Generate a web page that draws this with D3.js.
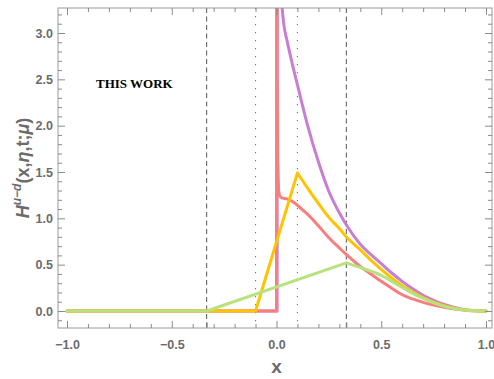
<!DOCTYPE html>
<html>
<head>
<meta charset="utf-8">
<script src="https://cdn.jsdelivr.net/npm/d3@7"></script>
<style>
  body { margin: 0; background: #fff; }
  .tick text { font-family: "Liberation Sans", Arial, sans-serif; font-weight: bold; font-size: 12.5px; fill: #6b6b6b; }
  .tick line { stroke: #8a8a8a; }
</style>
</head>
<body>
<svg id="chart"></svg>
<script>
// curves, [x, H] pairs
const purpleCurve = [[-1, 0], [0.003, 0], [0.004, 10], [0.012, 4.5], [0.02, 3.45], [0.035, 3.09], [0.05, 2.92],
    [0.075, 2.67], [0.1, 2.44], [0.15, 1.99], [0.2, 1.61], [0.25, 1.29], [0.3, 1.06], [0.333, 0.93], [0.4, 0.72],
    [0.45, 0.61], [0.5, 0.51], [0.55, 0.41], [0.6, 0.32], [0.65, 0.24], [0.7, 0.17], [0.75, 0.115], [0.8, 0.07],
    [0.85, 0.037], [0.9, 0.015], [0.95, 0.004], [1, 0]];
const redCurve = [[-1, 0], [0, 0], [0.001, 10], [0.003, 2.5], [0.006, 1.6], [0.01, 1.3], [0.015, 1.24], [0.025, 1.22],
    [0.05, 1.21], [0.07, 1.19], [0.09, 1.16], [0.12, 1.1], [0.15, 1.04], [0.2, 0.92], [0.25, 0.79], [0.3, 0.68],
    [0.333, 0.61], [0.4, 0.48], [0.45, 0.4], [0.5, 0.32], [0.55, 0.245], [0.6, 0.175], [0.65, 0.13], [0.7, 0.093],
    [0.75, 0.063], [0.8, 0.04], [0.85, 0.021], [0.9, 0.009], [0.95, 0.002], [1, 0]];
const yellowCurve = [[-1, 0], [-0.1, 0], [0.1, 1.49], [0.15, 1.32], [0.2, 1.16], [0.25, 1.01], [0.3, 0.89], [0.333, 0.8],
    [0.4, 0.66], [0.45, 0.55], [0.5, 0.45], [0.55, 0.355], [0.6, 0.275], [0.65, 0.205], [0.7, 0.145], [0.75, 0.095],
    [0.8, 0.057], [0.85, 0.03], [0.9, 0.012], [0.95, 0.003], [1, 0]];
const greenCurve = [[-1, 0], [-1 / 3, 0], [1 / 3, 0.52], [0.4, 0.47], [0.45, 0.43], [0.5, 0.385], [0.55, 0.32],
    [0.6, 0.255], [0.65, 0.19], [0.7, 0.135], [0.75, 0.088], [0.8, 0.052], [0.85, 0.027], [0.9, 0.011],
    [0.95, 0.003], [1, 0]];

const dashedLines = [-1 / 3, 1 / 3];
const dottedLines = [-0.1, 0.1];
const xMajor = [-1, -0.5, 0, 0.5, 1];
const yMajor = [0, 0.5, 1, 1.5, 2, 2.5, 3];

// kink: last x of the piecewise-linear part, the rest is drawn smooth
const series = [
    { data: purpleCurve, kink: 0.02, colour: "#c77fd3" },
    { data: redCurve, kink: 0.015, colour: "#f77f7f" },
    { data: yellowCurve, kink: 0.1, colour: "#ffc300" },
    { data: greenCurve, kink: 1 / 3, colour: "#b8e27e" }
];

const wtot = 494, htot = 379;
// frame in pixels
const frame = { left: 58, right: 492, top: 8, bottom: 328 };

const svg = d3.select("#chart")
    .attr("width", wtot)
    .attr("height", htot);

const x = d3.scaleLinear().domain([-1, 1]).range([67, 486]);
const y = d3.scaleLinear().domain([0, 3]).range([311, 33]);

const xMinor = d3.range(-10, 11).map(d => d / 10).filter(d => !xMajor.some(m => Math.abs(m - d) < 1e-9));
const yMinor = d3.range(-1, 33).map(d => d / 10).filter(d => !yMajor.some(m => Math.abs(m - d) < 1e-9));

svg.append("clipPath").attr("id", "plotclip")
    .append("rect")
    .attr("x", frame.left).attr("y", frame.top)
    .attr("width", frame.right - frame.left).attr("height", frame.bottom - frame.top);

// guide lines
svg.append("g")
    .selectAll("line")
    .data(dashedLines)
    .join("line")
    .attr("x1", d => x(d)).attr("x2", d => x(d))
    .attr("y1", frame.top).attr("y2", frame.bottom)
    .attr("stroke", "#555")
    .attr("stroke-width", 1)
    .attr("stroke-dasharray", "5,3.5");

svg.append("g")
    .selectAll("line")
    .data(dottedLines)
    .join("line")
    .attr("x1", d => x(d)).attr("x2", d => x(d))
    .attr("y1", frame.top).attr("y2", frame.bottom)
    .attr("stroke", "#777")
    .attr("stroke-width", 1.1)
    .attr("stroke-dasharray", "1.2,6.8");

// curves
const straight = d3.line().x(d => x(d[0])).y(d => y(d[1]));
const smooth = d3.line().curve(d3.curveMonotoneX).x(d => x(d[0])).y(d => y(d[1]));

function curvePath(s) {
    const a = s.data.filter(d => d[0] <= s.kink + 1e-9);
    const b = s.data.filter(d => d[0] >= s.kink - 1e-9);
    return straight(a) + smooth(b);
}

svg.append("g")
    .attr("clip-path", "url(#plotclip)")
    .selectAll("path")
    .data(series)
    .join("path")
    .attr("d", curvePath)
    .attr("fill", "none")
    .attr("stroke", d => d.colour)
    .attr("stroke-width", 3)
    .attr("stroke-linejoin", "round")
    .attr("stroke-linecap", "round");

// frame
svg.append("rect")
    .attr("x", frame.left).attr("y", frame.top)
    .attr("width", frame.right - frame.left).attr("height", frame.bottom - frame.top)
    .attr("fill", "none")
    .attr("stroke", "#9a9a9a")
    .attr("stroke-width", 1);

function ticks(axis, transform, values, size, labels) {
    const g = svg.append("g")
        .attr("transform", transform)
        .call(axis.tickValues(values).tickSize(size).tickPadding(labels ? 8 : 0)
            .tickFormat(labels ? d3.format(".1f") : ""));
    g.select(".domain").remove();
    return g;
}

// bottom
ticks(d3.axisBottom(x), `translate(0,${frame.bottom})`, xMajor, -7, true)
    .selectAll("text").attr("dy", "0.95em").attr("y", 9);
ticks(d3.axisBottom(x), `translate(0,${frame.bottom})`, xMinor, -4, false);
ticks(d3.axisBottom(x), `translate(0,${frame.bottom})`, dashedLines, -5.5, false);
// top
ticks(d3.axisTop(x), `translate(0,${frame.top})`, xMajor, -7, false);
ticks(d3.axisTop(x), `translate(0,${frame.top})`, xMinor, -4, false);
// left
ticks(d3.axisLeft(y), `translate(${frame.left},0)`, yMajor, -7, true)
    .selectAll("text").attr("x", -5);
ticks(d3.axisLeft(y), `translate(${frame.left},0)`, yMinor, -4, false);
// right
ticks(d3.axisRight(y), `translate(${frame.right},0)`, yMajor, -7, false);
ticks(d3.axisRight(y), `translate(${frame.right},0)`, yMinor, -4, false);

// axis titles
svg.append("text")
    .attr("x", x(0))
    .attr("y", 373)
    .attr("text-anchor", "middle")
    .style("font-family", "'Liberation Sans', Arial, sans-serif")
    .style("font-weight", "bold")
    .style("font-size", "19px")
    .style("fill", "#6b6b6b")
    .text("x");

const ylab = svg.append("text")
    .attr("transform", "translate(29,168) rotate(-90)")
    .attr("text-anchor", "middle")
    .style("font-family", "'Liberation Sans', Arial, sans-serif")
    .style("font-weight", "bold")
    .style("font-size", "18px")
    .style("fill", "#6b6b6b");
ylab.append("tspan").style("font-style", "italic").text("H");
ylab.append("tspan").attr("dy", -8).style("font-size", "12px").style("font-style", "italic").text("u\u2212d");
ylab.append("tspan").attr("dy", 8).text("(x,");
ylab.append("tspan").style("font-style", "italic").text("\u03b7");
ylab.append("tspan").text(",t;");
ylab.append("tspan").style("font-style", "italic").text("\u03bc");
ylab.append("tspan").text(")");

svg.append("text")
    .attr("x", 96)
    .attr("y", 88)
    .style("font-family", "'Liberation Serif', 'Times New Roman', serif")
    .style("font-weight", "bold")
    .style("font-size", "13px")
    .style("fill", "#000")
    .text("THIS WORK");
</script>
</body>
</html>
